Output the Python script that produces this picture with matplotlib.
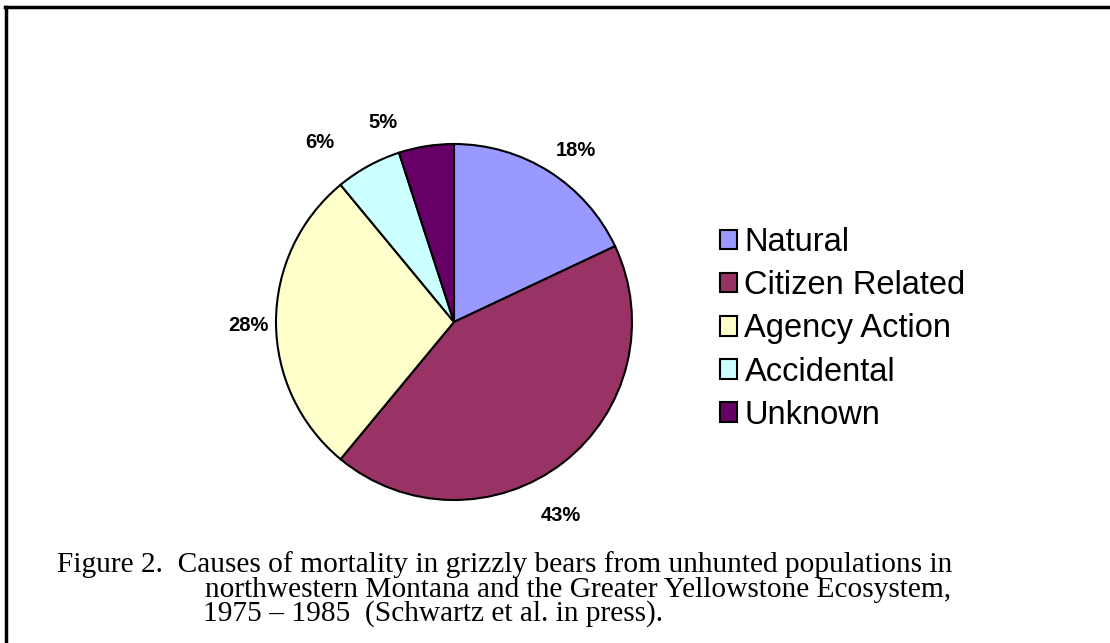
import numpy as np
import matplotlib.pyplot as plt
from matplotlib.patches import Patch
from matplotlib.lines import Line2D

causes = ["Natural", "Citizen Related", "Agency Action", "Accidental", "Unknown"]
percents = [18, 43, 28, 6, 5]
colors = ["#9999FF", "#993366", "#FFFFCC", "#CCFFFF", "#660066"]

caption = [
    "Figure 2.  Causes of mortality in grizzly bears from unhunted populations in",
    "northwestern Montana and the Greater Yellowstone Ecosystem,",
    "1975 \u2013 1985  (Schwartz et al. in press).",
]

# label placement tweaks (degrees off the slice middle, distance in radii)
label_nudge = [-3, -9, 1, 8, 10.5]
label_dist = [1.185, 1.243, 1.157, 1.257, 1.19]

W, H = 1110, 643
fig = plt.figure(figsize=(W / 100, H / 100), dpi=100)

# pie centred at (454, 322) px, radius 178 px
cx, cy, r = 454, 322, 178
ax = fig.add_axes([(cx - r) / W, (H - cy - r) / H, 2 * r / W, 2 * r / H])
wedges, texts, autotexts = ax.pie(
    percents, colors=colors, startangle=90, counterclock=False,
    autopct="%d%%", pctdistance=1.2,
    wedgeprops=dict(edgecolor="black", linewidth=1.5),
    textprops=dict(fontsize=14.5, fontweight="bold", family="Liberation Sans"),
)
for w, t, dth, d in zip(wedges, autotexts, label_nudge, label_dist):
    ang = np.deg2rad((w.theta1 + w.theta2) / 2 + dth)
    t.set_position((d * np.cos(ang), d * np.sin(ang)))
ax.set_xlim(-1, 1)
ax.set_ylim(-1, 1)
ax.set_aspect("equal")
ax.axis("off")

handles = [Patch(facecolor=c, edgecolor="black", linewidth=1.5) for c in colors]
fig.legend(handles, causes, loc="center left", bbox_to_anchor=(720 / W, 1 - 329 / H),
           frameon=False, borderpad=0, borderaxespad=0,
           handlelength=0.53, handleheight=0.53, handletextpad=0.22,
           labelspacing=0.37, prop=dict(family="Liberation Sans", size=23.5))

cap_font = dict(family="Liberation Serif", size=21.2, va="center", ha="left")
fig.text(57 / W, 1 - 565 / H, caption[0], **cap_font)
fig.text(205 / W, 1 - 590 / H, caption[1], **cap_font)
fig.text(203 / W, 1 - 614 / H, caption[2], **cap_font)

# frame lines along top and left edges
fig.add_artist(Line2D([5 / W, 1], [1 - 7 / H, 1 - 7 / H], color="black", linewidth=2.5))
fig.add_artist(Line2D([6 / W, 6 / W], [0, 1 - 7 / H], color="black", linewidth=2.5))

fig.savefig("out.png", dpi=100)
